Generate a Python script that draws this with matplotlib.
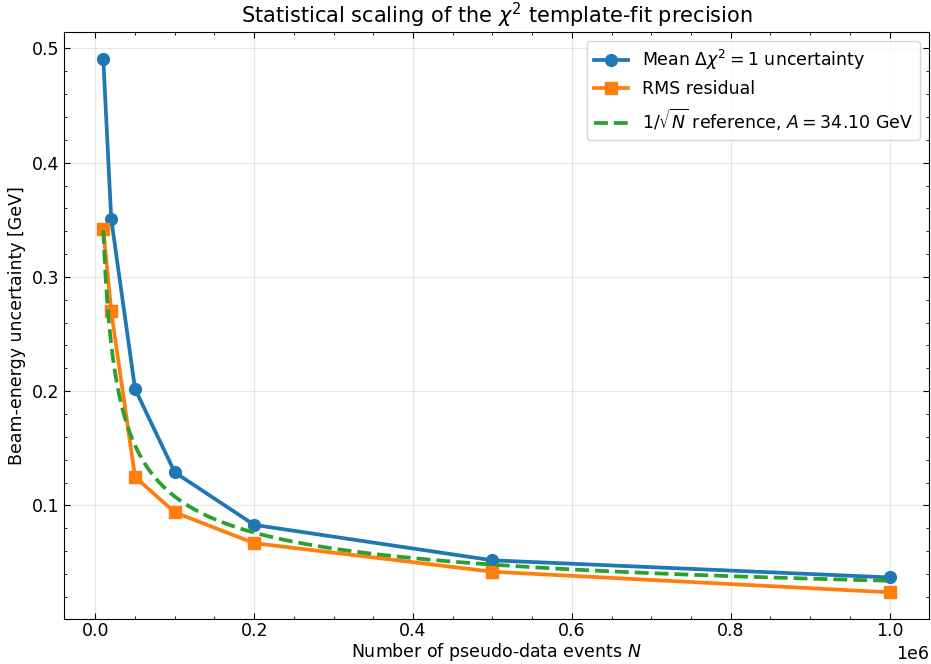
import numpy as np
import matplotlib
matplotlib.use("Agg")
import matplotlib.pyplot as plt
from matplotlib.ticker import AutoMinorLocator

N_events = [1e4, 2e4, 5e4, 1e5, 2e5, 5e5, 1e6]
mean_unc = [0.491, 0.351, 0.202, 0.129, 0.083, 0.052, 0.037]
rms_resid = [0.342, 0.270, 0.125, 0.094, 0.067, 0.042, 0.024]
A_ref = 34.10

FS = 12.5

fig = plt.figure(figsize=(9.31, 6.64), dpi=100)
ax = fig.add_axes([0.0687, 0.0678, 0.929, 0.884])

ax.plot(N_events, mean_unc, "-o", color="#1f77b4", lw=2.7, ms=8.5,
        label=r"Mean $\Delta\chi^2 = 1$ uncertainty")
ax.plot(N_events, rms_resid, "-s", color="#ff7f0e", lw=2.7, ms=8,
        label="RMS residual")
N_ref = np.linspace(N_events[0], N_events[-1], 400)
ax.plot(N_ref, A_ref / np.sqrt(N_ref), "--", color="#2ca02c", lw=2.7,
        label=r"$1/\sqrt{N}$ reference, $A = %.2f$ GeV" % A_ref)

ax.set_title(r"Statistical scaling of the $\chi^2$ template-fit precision", fontsize=15)
ax.set_xlabel(r"Number of pseudo-data events $N$", fontsize=FS, labelpad=0.5)
ax.set_ylabel("Beam-energy uncertainty [GeV]", fontsize=FS)
ax.grid(True, alpha=0.3)
ax.xaxis.set_minor_locator(AutoMinorLocator())
ax.yaxis.set_minor_locator(AutoMinorLocator())
ax.tick_params(which="both", direction="in", top=True, right=True, labelsize=FS)
ax.tick_params(which="major", length=4.5)
ax.tick_params(which="minor", length=2.5)
ax.tick_params(axis="x", which="major", pad=2.5)
ax.xaxis.get_offset_text().set_fontsize(FS)
ax.legend(fontsize=FS, loc="upper right")

fig.savefig("out.png", dpi=100)
